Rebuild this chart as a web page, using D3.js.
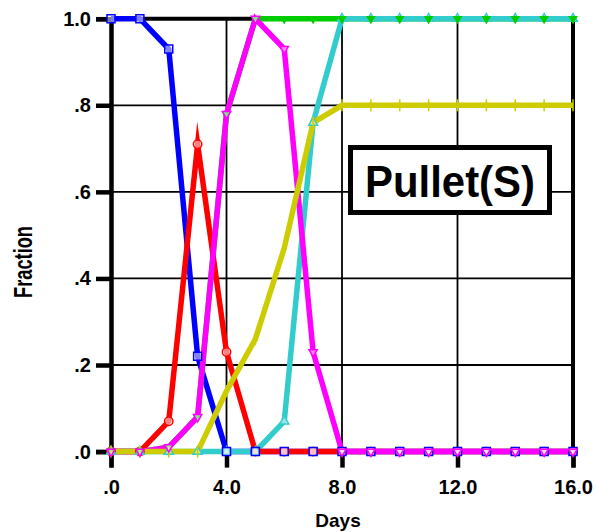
<!DOCTYPE html>
<html>
<head>
<meta charset="utf-8">
<script src="https://cdn.jsdelivr.net/npm/d3@7"></script>
<style>
  html, body { margin: 0; padding: 0; background: #fff; }
  svg { display: block; }
  text { font-family: "Liberation Sans", Arial, sans-serif; font-weight: bold; fill: #000; }
</style>
</head>
<body>
<svg id="chart" width="595" height="532"></svg>
<script>
// ---- data ----
const days = [0,1,2,3,4,5,6,7,8,9,10,11,12,13,14,15,16];
const blueVals    = [1.00,1.00,0.93,0.22,0.00,0,0,0,0,0,0,0,0,0,0,0,0];
const redVals     = [0.00,0.00,0.07,0.71,0.23,0,0,0,0,0,0,0,0,0,0,0,0];
const greenVals   = [0.00,0.00,0.01,0.08,0.78,1,1,1,1,1,1,1,1,1,1,1,1];
const magentaVals = [0.00,0.00,0.01,0.08,0.78,1.00,0.93,0.23,0,0,0,0,0,0,0,0,0];
const cyanVals    = [0.00,0.00,0.00,0.00,0.00,0.00,0.07,0.76,1,1,1,1,1,1,1,1,1];
const yellowVals  = [0.00,0.00,0.00,0.00,0.14,0.26,0.47,0.76,0.80,0.80,0.80,0.80,0.80,0.80,0.80,0.80,0.80];
const xTicks = [0,4,8,12,16];
const xTickLabels = [".0","4.0","8.0","12.0","16.0"];
const yTicks = [0,0.2,0.4,0.6,0.8,1.0];
const yTickLabels = [".0",".2",".4",".6",".8","1.0"];
const xTitle = "Days";
const yTitle = "Fraction";
const boxLabel = "Pullet(S)";

const series = [
  {name:"blue",    vals:blueVals,    color:"#0000ff", marker:"square"},
  {name:"green",   vals:greenVals,   color:"#00cc00", marker:"tri-down-filled"},
  {name:"cyan",    vals:cyanVals,    color:"#33cccc", marker:"tri-up"},
  {name:"red",     vals:redVals,     color:"#ff0000", marker:"circle"},
  {name:"magenta", vals:magentaVals, color:"#ff00ff", marker:"tri-down"},
  {name:"yellow",  vals:yellowVals,  color:"#cccc00", marker:"tick"}
];
const markerOrder = ["red","cyan","green","yellow","blue","magenta"];

// ---- layout ----
const svg = d3.select("#chart");
const x = d3.scaleLinear().domain([0,16]).range([111,573]);
const y = d3.scaleLinear().domain([0,1]).range([451.6,18.7]);

// gridlines
const grid = svg.append("g");
grid.selectAll("line.gx").data(xTicks.slice(1,-1)).enter().append("line")
  .attr("x1", d=>x(d)).attr("x2", d=>x(d)).attr("y1", y(0)).attr("y2", y(1))
  .attr("stroke","#000").attr("stroke-width",1.8);
grid.selectAll("line.gy").data(yTicks.slice(1,-1)).enter().append("line")
  .attr("y1", d=>y(d)).attr("y2", d=>y(d)).attr("x1", x(0)).attr("x2", x(16))
  .attr("stroke","#000").attr("stroke-width",1.8);

// top and right border
svg.append("line").attr("x1",x(0)).attr("x2",x(16)+2).attr("y1",y(1)).attr("y2",y(1))
  .attr("stroke","#000").attr("stroke-width",4);
svg.append("line").attr("x1",x(16)).attr("x2",x(16)).attr("y1",y(1)).attr("y2",y(0))
  .attr("stroke","#000").attr("stroke-width",4);

// axes
const xAxis = d3.axisBottom(x).tickValues(xTicks)
  .tickFormat((d,i)=>xTickLabels[i]).tickSize(16).tickPadding(12);
const gx = svg.append("g").attr("transform",`translate(0,${y(0)})`).call(xAxis);
gx.select(".domain").attr("stroke","#000").attr("stroke-width",4);
gx.selectAll(".tick line").attr("stroke","#000").attr("stroke-width",4.5);
gx.selectAll(".tick text").style("font-size","20px").style("font-weight","bold")
  .attr("font-family","Liberation Sans, Arial, sans-serif").attr("fill","#000");

const yAxis = d3.axisLeft(y).tickValues(yTicks)
  .tickFormat((d,i)=>yTickLabels[i]).tickSize(15).tickPadding(5);
const gy = svg.append("g").attr("transform",`translate(${x(0)},0)`).call(yAxis);
gy.select(".domain").attr("stroke","#000").attr("stroke-width",4.5);
gy.selectAll(".tick line").attr("stroke","#000").attr("stroke-width",4.5);
gy.selectAll(".tick text").style("font-size","20px").style("font-weight","bold")
  .attr("font-family","Liberation Sans, Arial, sans-serif").attr("fill","#000");

// axis titles
svg.append("text").attr("x", 338).attr("y", 527).attr("text-anchor","middle")
  .style("font-size","19px").text(xTitle);
svg.append("text").attr("transform","translate(32,262) rotate(-90)")
  .attr("text-anchor","middle").style("font-size","25px")
  .attr("textLength",72).attr("lengthAdjust","spacingAndGlyphs").text(yTitle);

// lines
const line = d3.line().x((d,i)=>x(days[i])).y(d=>y(d));
const linesG = svg.append("g");
series.forEach(s => {
  linesG.append("path").datum(s.vals).attr("d", line)
    .attr("fill","none").attr("stroke", s.color).attr("stroke-width",5.5)
    .attr("stroke-linejoin","miter").attr("stroke-miterlimit",12);
});

// markers
const markG = svg.append("g");
markerOrder.forEach(nm => {
  const s = series.find(q=>q.name===nm);
  const g = markG.append("g");
  const pts = s.vals.map((v,i)=>({x:x(days[i]), y:y(v)}));
  if (s.marker === "tick") {
    g.selectAll("line").data(pts).enter().append("line")
      .attr("x1",d=>d.x).attr("x2",d=>d.x).attr("y1",d=>d.y-6).attr("y2",d=>d.y+6)
      .attr("stroke",s.color).attr("stroke-width",1.5);
    return;
  }
  let type = d3.symbolSquare, size = 64, rot = 0, fill = "#fff";
  if (s.marker === "circle") { type = d3.symbolCircle; size = 55; }
  if (s.marker === "tri-up") { type = d3.symbolTriangle; size = 35; }
  if (s.marker === "tri-down") { type = d3.symbolTriangle; size = 30; rot = 180; }
  if (s.marker === "tri-down-filled") { type = d3.symbolTriangle; size = 22; rot = 180; fill = s.color; }
  const sym = d3.symbol().type(type).size(size);
  g.selectAll("path").data(pts).enter().append("path")
    .attr("d", sym)
    .attr("transform", d=>`translate(${d.x},${d.y}) rotate(${rot})`)
    .attr("fill", fill).attr("fill-opacity", fill === "#fff" ? 0.5 : 1)
    .attr("stroke", s.color).attr("stroke-width",1.5);
});

// label box
const box = svg.append("g");
box.append("rect").attr("x",350.5).attr("y",147.5).attr("width",199).attr("height",65)
  .attr("fill","#fff").attr("stroke","#000").attr("stroke-width",5);
box.append("text").attr("x",450).attr("y",196.5).attr("text-anchor","middle")
  .style("font-size","44px").attr("textLength",170).attr("lengthAdjust","spacingAndGlyphs")
  .text(boxLabel);
</script>
</body>
</html>
